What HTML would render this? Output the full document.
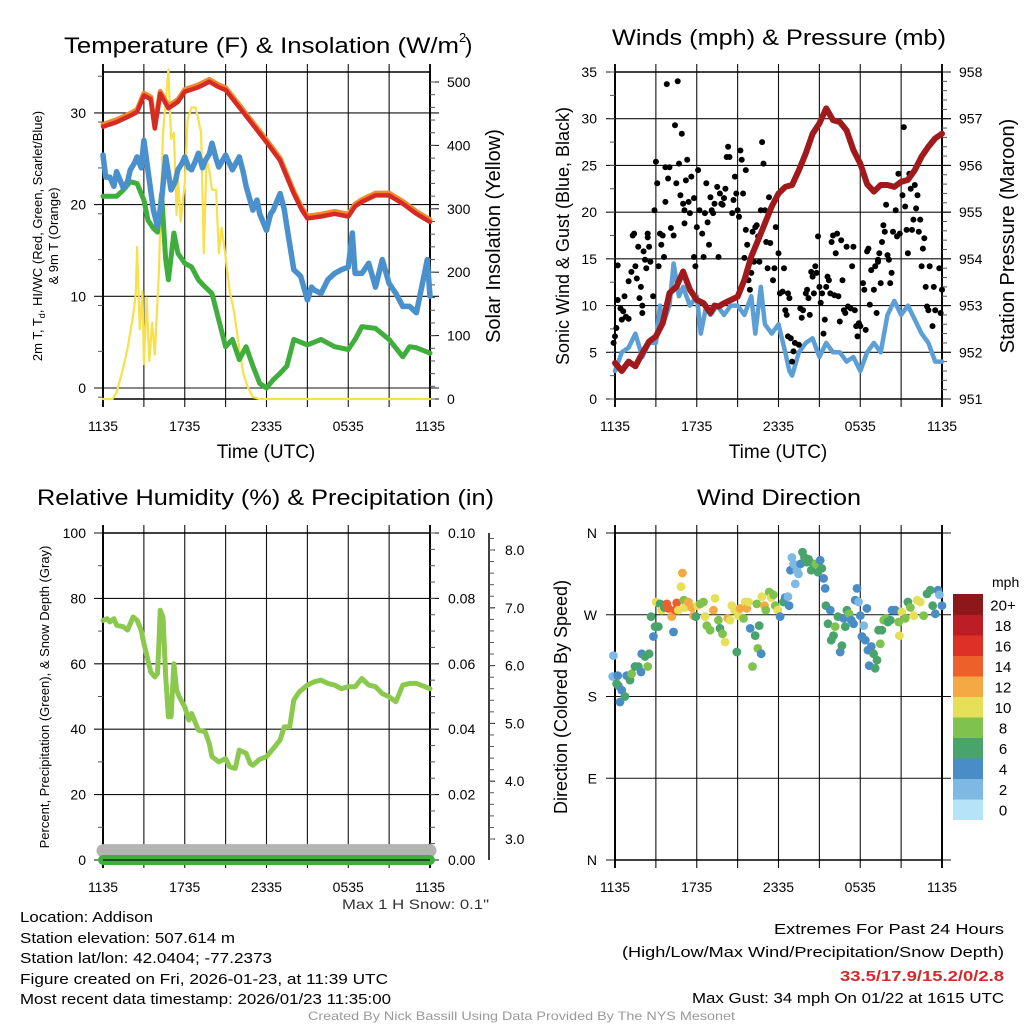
<!DOCTYPE html>
<html><head><meta charset="utf-8"><style>
html,body{margin:0;padding:0;background:#fff;}
svg{display:block;font-family:"Liberation Sans",sans-serif;}
</style></head><body>
<svg id="chart" xmlns="http://www.w3.org/2000/svg" width="1024" height="1024" viewBox="0 0 1024 1024">
<rect width="1024" height="1024" fill="#fff"/>
<g id="g1"></g>
<g id="g2"></g>
<g id="g3"></g>
<g id="g4"></g>
<g id="txt">
<text x="20" y="922" font-size="14.5" textLength="133" lengthAdjust="spacingAndGlyphs">Location: Addison</text>
<text x="20" y="943" font-size="14.5" textLength="215" lengthAdjust="spacingAndGlyphs">Station elevation: 507.614 m</text>
<text x="20" y="963" font-size="14.5" textLength="252" lengthAdjust="spacingAndGlyphs">Station lat/lon: 42.0404; -77.2373</text>
<text x="20" y="984" font-size="14.5" textLength="368" lengthAdjust="spacingAndGlyphs">Figure created on Fri, 2026-01-23, at 11:39 UTC</text>
<text x="20" y="1004" font-size="14.5" textLength="371" lengthAdjust="spacingAndGlyphs">Most recent data timestamp: 2026/01/23 11:35:00</text>
<text x="774" y="934" font-size="14.5" textLength="230" lengthAdjust="spacingAndGlyphs">Extremes For Past 24 Hours</text>
<text x="622" y="957" font-size="14.5" textLength="382" lengthAdjust="spacingAndGlyphs">(High/Low/Max Wind/Precipitation/Snow Depth)</text>
<text x="840" y="981" font-size="15" font-weight="bold" fill="#d42a2a" textLength="164" lengthAdjust="spacingAndGlyphs">33.5/17.9/15.2/0/2.8</text>
<text x="692" y="1003" font-size="14.5" textLength="312" lengthAdjust="spacingAndGlyphs">Max Gust: 34 mph On 01/22 at 1615 UTC</text>
<text x="308" y="1020" font-size="12" fill="#999" textLength="427" lengthAdjust="spacingAndGlyphs">Created By Nick Bassill Using Data Provided By The NYS Mesonet</text>
<text x="342" y="909" font-size="14" fill="#333" textLength="147" lengthAdjust="spacingAndGlyphs">Max 1 H Snow: 0.1"</text>
</g>
</svg>
<script>
// ===== DATA =====
const timeLabels = ["1135","1735","2335","0535","1135"];
const tempH = [0,1,2,2.5,3,3.5,3.8,4.2,4.8,5.5,6,7,7.8,8.5,9,10,11,12,13,13.5,14,14.6,15,16,17,18,18.5,19,20,21,22,23,24];
const tempV = [28.5,29,29.7,30.1,31.9,31.5,28.3,32.1,30.5,31.2,32.3,32.8,33.4,32.8,32.5,30.6,28.7,26.8,24.8,23,21.2,19.4,18.5,18.7,19,18.7,19.8,20.3,21,21,20.1,19,18.1];
const chillH = [0,0.2,0.5,0.8,1,1.3,1.5,1.8,2,2.3,2.5,2.8,3,3.3,3.7,4,4.3,4.6,5,5.3,5.5,5.8,6,6.3,6.5,6.8,7,7.3,7.5,7.8,8,8.3,8.5,9,9.5,10,10.3,10.5,11,11.3,11.5,12,12.3,12.5,13,13.3,13.5,14,14.5,15,15.3,15.5,16,16.5,17,17.5,18,18.3,18.5,19,19.5,20,20.5,21,21.5,22,22.5,23,23.5,23.8,24];
const chillV = [25.4,23,23,22,23.6,22.5,21.8,22.5,23.8,24.5,25.2,24,27,23.7,19.4,17.6,20.5,25.2,21.6,22.5,23.8,24.5,25.2,24,23.8,24.8,25.6,24,24.8,25.5,26.7,25,24.1,25.4,23.8,25.2,23.5,22,19.4,20.5,19,17.2,19,19.4,21.2,19.5,17.6,12.9,12.2,9.6,11,10.7,10.3,11.8,12.5,12.9,13.2,16.9,12.5,12.5,13.6,11,14,11.4,10.3,8.9,8.9,8.2,11.8,14,10];
const dewH = [0,1,1.5,2,2.5,3,3.3,3.7,4,4.3,4.6,4.8,5.2,5.5,6,6.5,7,7.5,8,8.5,9,9.5,10,10.5,11,11.5,12,12.5,13,13.5,14,15,16,17,18,18.5,19,20,21,22,22.5,23,24];
const dewV = [20.9,20.9,21.6,22.5,22.3,20.5,18.3,17.4,17,21.2,14,11.8,16.9,14.7,13.6,13.2,11.8,11,10.3,7.4,4.5,5.3,3.1,4.5,2.4,0.5,0,0.9,1.6,2.4,5.3,4.7,5.3,4.5,4.2,5.3,6.7,6.5,5.3,3.4,4.5,4.4,3.8];
const solH = [0,0.7,1,1.5,1.8,2.2,2.4,2.5,2.7,2.9,3,3.2,3.4,3.6,3.8,4.1,4.4,4.8,5,5.2,5.4,5.5,5.7,6,6.2,6.5,6.8,7,7.2,7.4,7.6,7.8,8,8.3,8.5,8.7,8.9,9.3,9.6,10,10.3,10.6,11,11.5,24];
const solV = [0,0,10,50,80,130,165,240,110,170,55,160,60,120,70,200,420,520,410,420,290,350,280,340,440,460,460,440,420,230,380,360,330,330,230,270,240,170,140,80,40,20,3,0,0];
const windH = [0,0.5,1,1.5,2,2.5,3,3.3,3.5,4,4.3,4.7,5,5.5,6,6.3,6.7,7,7.5,8,8.5,9,9.5,10,10.3,10.7,11,11.5,12,12.5,12.8,13,13.5,14,14.5,15,15.5,16,16.5,17,17.5,18,18.5,19,19.5,20,20.5,21,21.5,22,22.5,23,23.5,24];
const windV = [3,5,5.5,7,4.5,6,6,10,8,10,14.5,11,12,10,11,7,10,9,10,9,10,10,9,11,7,12,8,7,8,5,3,2.5,5,6,6.5,4.5,6,5,5,4,4.5,3,5,6,5,9,10.5,9,10,8.5,7,6,4,4];
const presH = [0,0.5,1,1.5,2,2.5,3,3.5,4,4.5,5,5.5,6,6.5,7,7.3,7.6,8,8.5,9,9.5,10,10.5,11,11.5,12,12.5,13,13.5,14,14.5,15,15.5,16,16.5,17,17.5,18,18.5,19,19.5,20,20.5,21,21.5,22,22.5,23,23.5,24];
const presV = [951.77,951.6,951.8,951.7,951.98,952.23,952.34,952.62,953.27,953.4,953.73,953.34,953.12,953.05,952.84,953.0,952.98,953.05,953.12,953.19,953.55,954.05,954.4,954.76,955.12,955.4,955.54,955.58,955.9,956.26,956.68,956.9,957.22,956.97,956.93,956.75,956.33,956.04,955.6,955.44,955.58,955.58,955.54,955.65,955.69,955.9,956.19,956.4,956.58,956.68];
const gustH = [-0.1,0,0.1,0.2,0.2,0.4,0.6,0.5,0.7,0.8,1.0,1.0,1.2,1.3,1.4,1.5,1.6,1.7,1.8,1.9,2.0,2.0,2.1,2.2,2.3,2.4,2.4,2.5,2.6,2.8,2.9,3.0,3.1,3.2,3.3,3.4,3.5,3.6,3.7,3.7,3.8,3.9,4.0,4.1,4.3,4.4,4.5,4.6,4.7,4.8,4.9,5.0,5.1,5.1,5.2,5.3,5.4,5.5,5.6,5.8,5.8,5.9,6.0,6.1,6.2,6.4,6.5,6.6,6.7,6.8,6.9,7.0,7.1,7.2,7.3,7.5,7.6,7.7,7.8,7.9,8.0,8.1,8.2,8.3,8.4,8.6,8.7,8.8,8.9,9.0,9.1,9.2,9.3,9.4,9.5,9.6,9.6,9.7,9.8,9.9,10.0,10.1,10.2,10.3,10.4,10.5,10.6,10.7,10.8,10.9,11.0,11.1,11.2,11.3,11.4,11.6,11.7,11.8,12.0,12.1,12.3,12.4,12.5,12.6,12.7,12.8,12.7,12.9,13.0,13.1,13.2,13.5,13.6,13.7,13.8,14.0,14.1,14.2,14.3,14.4,14.5,14.6,14.7,14.8,14.9,15.0,15.1,15.2,15.3,15.4,15.5,15.6,15.7,15.8,15.9,16.0,16.1,16.2,16.3,16.4,16.5,16.6,16.7,16.8,16.9,17.0,17.1,17.3,17.4,17.5,17.6,17.7,17.8,17.9,18.0,18.2,18.3,18.4,18.5,18.6,18.7,18.8,19.0,19.1,19.2,19.3,19.3,19.4,19.5,19.6,19.7,19.8,19.9,20.0,20.1,20.2,20.3,20.4,20.6,20.7,20.8,20.9,21.1,21.2,21.3,21.4,21.5,21.6,21.7,21.8,21.9,22.0,22.1,22.2,22.3,22.4,22.5,22.6,22.7,22.8,22.9,23.0,23.1,23.3,23.4,23.5,23.8,23.9,24.0];
const gustV = [6,6.7,7.6,14.3,10.6,9.7,9.4,8.5,11,8.8,8.6,12.6,13.6,17.5,17.7,14.2,12.9,16.3,10.8,12,10,9.2,15.8,14.9,14,17.7,17.3,16.3,14.7,11,20.2,25.4,23.1,14.2,17.7,16.5,17.5,15.2,21.1,24.8,33.7,23.6,24.8,18.3,17.5,29.3,23.1,34,25.2,21.8,28.4,20.9,20.2,18.8,23.4,25.6,21.1,19.9,23.8,21.5,15.2,14.2,18.4,24.5,20.2,17.7,15.2,19.9,23.1,18.9,16.5,21.6,20.2,19.9,20.9,22.7,15.2,22,20.9,20.8,21.5,22.5,25.9,27,25.9,19.9,21.3,23.8,22,20.2,19.5,26.6,25.6,22,15.1,18.1,24.5,16.5,12.7,11.7,13.5,17.9,14.7,18.4,18.6,17.4,14.7,20.2,27.5,25.2,20.2,16.8,14,21.6,16.7,12.7,14,18.4,15.6,11.3,11.5,14,9.5,9,11.3,10.8,6.7,6.5,4,5.1,6,5.8,9.7,8.7,9.5,11.3,11.7,10.8,9,13.6,13.1,11.3,14.2,13.5,17.4,12,10.3,11.3,7,8.5,12,13.1,12.7,11.3,16.8,17.5,11.1,15.6,17.7,11,8.3,17,12.7,9.5,9.2,16.3,9.9,9.7,14.2,16.3,9.5,7.8,6.7,8.1,7.8,12.4,11.7,7.4,15.8,16.1,10.1,13.8,11.7,14.2,9.2,14.7,14.9,15.6,12.4,16.8,18.6,17.9,20.8,15.4,14.9,12.4,13.5,17.9,20.2,17.4,24.1,17.7,21.8,29.1,20.6,18.1,15.6,24.1,22.5,18.1,19.2,22.9,20.4,21.8,17.9,19.2,14.2,16.1,17.2,12,9.9,9.5,14.2,7.8,12,9.5,14,9.2,11.7];
const dirH = [-0.12,-0.17,0.2,0.24,0.12,0.49,0.37,0.73,0.86,1.1,1.22,1.47,1.71,1.91,1.96,2.2,2.4,2.5,2.65,2.82,2.94,3.01,3.18,3.31,3.43,3.62,3.8,3.92,4.16,4.29,4.41,4.53,4.65,4.85,4.95,5.05,5.14,5.39,5.63,5.76,5.93,6.07,6.25,6.49,6.61,6.74,6.98,7.22,7.35,7.59,7.71,7.89,8.08,8.28,8.45,8.57,8.77,8.94,9.06,9.18,9.43,9.55,9.67,9.8,9.92,10.09,10.29,10.41,10.48,10.58,10.73,10.78,10.97,11.07,11.32,11.46,11.63,11.76,11.95,12.12,12.37,12.49,12.69,12.78,12.88,12.98,13.1,13.23,13.35,13.47,13.62,13.76,13.91,14.08,14.21,14.4,14.57,14.74,14.89,15.06,15.18,15.31,15.43,15.48,15.63,15.8,15.87,16.04,16.16,16.36,16.53,16.65,16.78,16.9,17.02,17.19,17.34,17.51,17.63,17.76,17.88,18.0,18.12,18.25,18.37,18.49,18.56,18.66,18.81,18.98,19.1,19.23,19.35,19.47,19.59,19.72,19.89,20.03,20.21,20.33,20.57,20.82,20.87,21.06,21.31,21.5,21.68,21.92,22.17,22.41,22.65,22.9,23.14,23.32,23.51,23.71,23.81,24.0];
const dirV = [225,202,203,192,194,187,174,180,203,198,205,213,213,207,227,224,213,227,268,246,257,284,257,282,275,278,282,277,268,251,275,283,275,301,316,286,278,284,278,269,268,280,282,284,268,258,253,275,288,264,255,249,240,266,264,280,275,229,269,277,266,284,277,284,255,213,247,282,233,258,227,290,280,275,295,289,292,280,275,268,284,289,290,280,319,333,326,304,319,315,326,339,333,328,331,319,326,326,317,330,321,310,299,280,260,275,242,247,257,268,229,236,266,257,275,271,264,260,286,299,284,269,246,258,242,277,231,214,235,227,211,220,253,238,253,264,266,262,264,275,275,262,247,273,266,284,278,269,286,284,269,293,297,280,271,297,292,280];
const dirS = [3,3,5,4,6,4,5,7,5,7,9,7,7,5,5,7,8,7,7,5,7,10,7,6,10,7,15,15,12,5,14,15,10,10,12,8,10,12,12,12,7,10,8,8,10,8,8,12,10,8,7,8,10,13,10,10,10,7,10,13,8,10,12,10,5,8,6,8,8,6,5,10,12,8,8,10,8,8,10,4,6,4,3,4,4,3,3,2,3,3,4,6,6,6,6,6,6,8,6,4,6,4,4,6,6,4,6,6,8,6,4,6,4,6,6,8,5,4,4,4,3,4,4,2,4,4,4,4,4,6,6,6,6,8,6,8,8,6,6,4,4,8,10,10,8,6,8,10,10,10,8,6,6,6,4,4,3,4];
const rhH = [0,0.3,0.5,0.8,1,1.5,1.8,2,2.2,2.5,2.8,3,3.3,3.5,3.8,4,4.1,4.2,4.4,4.6,4.8,5,5.1,5.2,5.4,5.6,6,6.3,6.5,6.8,7,7.5,7.8,8,8.5,9,9.3,9.7,10,10.5,10.8,11,11.5,12,12.5,13,13.3,13.7,14,14.4,15,15.5,16,16.5,17,17.5,18,18.5,19,19.5,20,20.5,21,21.5,22,22.5,23,24];
const rhV = [73.3,73.8,72.8,73.8,71.8,71.3,70.3,72.3,74.3,73.3,70.3,66.2,61,57.5,56,57,66.2,76.4,74.3,56,43.8,43.8,52,60,52,49.9,46.8,42.8,44.8,41.8,39.7,39.2,35.6,31.6,30,31,28.5,28,33.6,32.6,29.5,29,30.8,31.6,34.1,36.7,40.7,40.7,48.9,51.4,53.5,54.5,55,54,53.5,52.4,53,53,55.5,53.5,53,50.9,49.9,48.4,53.5,54,54,52.4];
const precipH = [0,24];
const precipV = [0,0];
const snowH = [0,24];
const snowV = [2.8,2.8];
const speedBins = ["0","2","4","6","8","10","12","14","16","18","20+"];
const binColors = ["#b5e3f7","#7db9e3","#4a8dc6","#49a46c","#7fc24d","#e6df58","#f5a944","#ee5f2b","#dd3128","#bd1d25","#8e171a"];

// ===== HELPERS =====
const NS = "http://www.w3.org/2000/svg";
function mk(tag, attrs, parent){ const e=document.createElementNS(NS,tag); for(const k in attrs) e.setAttribute(k,attrs[k]); parent.appendChild(e); return e; }
function txt(parent, s, x, y, size, anchor, extra){ const e=mk("text",Object.assign({x:x,y:y,"font-size":size,"text-anchor":anchor||"start"},extra||{}),parent); e.textContent=s; return e; }
function pathD(xs, ys, fx, fy){ return xs.map((h,i)=>(i?"L":"M")+fx(h).toFixed(1)+","+fy(ys[i]).toFixed(1)).join(""); }

function frame(g, X0, X1, yT, yB, hLines){
  for(let k=0;k<=8;k++){
    const x = X0 + k*(X1-X0)/8;
    const l = mk("line",{x1:x,x2:x,y1:yT-8,y2:yB+8,stroke:"#111","stroke-width":(k==0||k==8)?2:1.1},g);
    
    
  }
  hLines.forEach(y=>{
    const l = mk("line",{x1:X0-9,x2:X1+9,y1:y,y2:y,stroke:"#111","stroke-width":1.1},g);
    
    
  });
  const r = mk("rect",{x:X0,y:yT,width:X1-X0,height:yB-yT,fill:"none",stroke:"#000","stroke-width":1.5},g);
  
  
  timeLabels.forEach((s,i)=>{
    const t = txt(g,s,X0+i*(X1-X0)/4,yB+32,14,"middle");
    
    
  });
}
function minorTicks(g, x, y0, y1, step, dir){
  for(let y=y0; y>=y1-0.1; y-=step){
    const l = mk("line",{x1:x,x2:x+dir*5,y1:y,y2:y,stroke:"#555","stroke-width":1},g);
    
    
  }
}
function series(g, name, d, color, w){
  const p = mk("path",{d:d,fill:"none",stroke:color,"stroke-width":w,"stroke-linejoin":"round","stroke-linecap":"round"},g);
  
  
  return p;
}

// ===== PANEL 1 =====
(function(){
  const g=document.getElementById("g1");
  const X0=103,X1=430,yT=72,yB=399;
  const xS=h=>X0+h*(X1-X0)/24;
  const yS=v=>388-v*9.17;
  const yI=v=>399-v*0.634;
  frame(g,X0,X1,yT,yB,[0,10,20,30].map(yS));
  minorTicks(g,X0,yS(-1),yT,yS(0)-yS(5),-1);
  [0,100,200,300,400,500].forEach(v=>{
    const l=mk("line",{x1:X1,x2:X1+9,y1:yI(v),y2:yI(v),stroke:"#111"},g);
    
    
    const t=txt(g,String(v),X1+17,yI(v)+5,14,"start");
    
    
  });
  minorTicks(g,X1,yI(0),yT,yI(0)-yI(20),1);
  [0,10,20,30].forEach(v=>{
    const t=txt(g,String(v),86,yS(v)+5,14,"end");
    
    
  });
  series(g,"insolation-line",pathD(solH,solV,xS,yI),"#f7e04a",2.2);
  series(g,"dewpoint-line",pathD(dewH,dewV,xS,yS),"#3fae3c",5);
  series(g,"windchill-line",pathD(chillH,chillV,xS,yS),"#4a90cc",5.5);
  series(g,"temp-9m-line",pathD(tempH,tempV.map(v=>v+0.25),xS,yS),"#f08a2c",5);
  series(g,"temp-2m-line",pathD(tempH,tempV,xS,yS),"#d62a25",4.5);
  const t1=txt(g,"Temperature (F) & Insolation (W/m",64,53,22,"start",{textLength:"395",lengthAdjust:"spacingAndGlyphs"});
  
  
  const t1b=txt(g,"2",459,42,13);  
  const t1c=txt(g,")",465,53,22);  
  const xt=txt(g,"Time (UTC)",266,458,19,"middle");
  
  
  const ya=mk("text",{transform:"translate(42,236) rotate(-90)","font-size":13,"text-anchor":"middle"},g);
  ya.innerHTML='2m T, T<tspan font-size="9" dy="3">d</tspan><tspan dy="-3">, HI/WC (Red, Green, Scarlet/Blue)</tspan>';
  
  
  const yb=txt(g,"& 9m T (Orange)",0,0,13,"middle",{transform:"translate(58,236) rotate(-90)"});
  
  
  const yr=txt(g,"Solar Insolation (Yellow)",0,0,20,"middle",{transform:"translate(500,236) rotate(-90)"});
  
  
})();

// ===== PANEL 2 =====
(function(){
  const g=document.getElementById("g2");
  const X0=615,X1=942,yT=72,yB=399;
  const xS=h=>X0+h*(X1-X0)/24;
  const yW=v=>399-v*327/35;
  const yP=p=>399-(p-951)*327/7;
  frame(g,X0,X1,yT,yB,[0,5,10,15,20,25,30,35].map(yW));
  minorTicks(g,X0,yW(0),yT,yW(0)-yW(2.5),-1);
  minorTicks(g,X1,yP(951),yT,yP(951)-yP(951.2),1);
  [0,5,10,15,20,25,30,35].forEach(v=>{
    const t=txt(g,String(v),597,yW(v)+5,14,"end");
    
    
  });
  [951,952,953,954,955,956,957,958].forEach(v=>{
    const l=mk("line",{x1:X1,x2:X1+9,y1:yP(v),y2:yP(v),stroke:"#111"},g);
    
    
    const t=txt(g,String(v),X1+17,yP(v)+5,14,"start");
    
    
  });
  series(g,"sonic-wind-line",pathD(windH,windV,xS,yW),"#5b9fd6",4.5);
  gustH.forEach((h,i)=>{
    const c=mk("circle",{cx:xS(h).toFixed(1),cy:yW(gustV[i]).toFixed(1),r:3,fill:"#000"},g);
    
    
  });
  series(g,"pressure-line",pathD(presH,presV,xS,yP),"#a01a1c",6);
  const t=txt(g,"Winds (mph) & Pressure (mb)",612,45,22,"start",{textLength:"334",lengthAdjust:"spacingAndGlyphs"});
  
  
  const xt=txt(g,"Time (UTC)",778,458,19,"middle");
  
  
  const ya=txt(g,"Sonic Wind & Gust (Blue, Black)",0,0,18,"middle",{transform:"translate(569,236) rotate(-90)"});
  
  
  const yr=txt(g,"Station Pressure (Maroon)",0,0,20,"middle",{transform:"translate(1014,236) rotate(-90)"});
  
  
})();

// ===== PANEL 3 =====
(function(){
  const g=document.getElementById("g3");
  const X0=103,X1=430,yT=533,yB=860;
  const xS=h=>X0+h*(X1-X0)/24;
  const yR=v=>860-v*3.27;
  const yPr=v=>860-v*3270;
  const ySn=s=>839-(s-3)*57.8;
  frame(g,X0,X1,yT,yB,[0,20,40,60,80,100].map(yR));
  minorTicks(g,X0,yR(10),yT,yR(0)-yR(20),-1);
  minorTicks(g,X1,yR(0),yT,yR(0)-yR(5),1);
  [0,20,40,60,80,100].forEach(v=>{
    const t=txt(g,String(v),86,yR(v)+5,14,"end");
    
    
  });
  ["0.00","0.02","0.04","0.06","0.08","0.10"].forEach((s,i)=>{
    const t=txt(g,s,448,yPr(i*0.02)+5,14,"start");
    
    
  });
  const sa=mk("line",{x1:489,x2:489,y1:533,y2:860,stroke:"#000","stroke-width":1.5},g);
  
  
  [3,4,5,6,7,8].forEach(v=>{
    const l=mk("line",{x1:489,x2:495,y1:ySn(v),y2:ySn(v),stroke:"#000"},g);
    
    
    const t=txt(g,v.toFixed(1),505,ySn(v)+5,14,"start");
    
    
  });
  minorTicks(g,489,ySn(3),533,ySn(3)-ySn(3.2),1);
  series(g,"rh-line",pathD(rhH,rhV,xS,yR),"#8bc94e",5);
  series(g,"snow-depth-line",pathD(snowH,snowV,xS,ySn),"#b3b3b3",13);
  series(g,"precip-line",pathD(precipH,precipV,xS,yPr),"#3fae3c",10);
  const fr=mk("line",{x1:X0,x2:X1,y1:yB,y2:yB,stroke:"#111","stroke-width":1.2},g);
  
  
  const t=txt(g,"Relative Humidity (%) & Precipitation (in)",37,505,22,"start",{textLength:"457",lengthAdjust:"spacingAndGlyphs"});
  
  
  const ya=txt(g,"Percent, Precipitation (Green), & Snow Depth (Gray)",0,0,13,"middle",{transform:"translate(49,697) rotate(-90)"});
  
  
})();

// ===== PANEL 4 =====
(function(){
  const g=document.getElementById("g4");
  const X0=615,X1=942,yT=533,yB=860;
  const xS=h=>X0+h*(X1-X0)/24;
  const yD=d=>860-d*327/360;
  frame(g,X0,X1,yT,yB,[0,90,180,270,360].map(yD));
  ["N","E","S","W","N"].forEach((s,i)=>{
    const t=txt(g,s,597,yD(i*90)+5,14,"end");
    
    
  });
  dirH.forEach((h,i)=>{
    const b=Math.min(10,Math.floor((dirS[i]||0)/2));
    const c=mk("circle",{cx:xS(h).toFixed(1),cy:yD(dirV[i]).toFixed(1),r:4.4,fill:binColors[b]},g);
    
    
  });
  const top=594, bh=20.5;
  speedBins.forEach((s,i)=>{
    const k=10-i;
    const r=mk("rect",{x:953,y:top+k*bh,width:30,height:bh+0.5,fill:binColors[i]},g);
    
    
    const t=txt(g,s,1003,top+k*bh+bh/2+6,15,"middle");
    
    
  });
  const u=txt(g,"mph",992,587,14,"start");
  
  
  const t=txt(g,"Wind Direction",697,505,22,"start",{textLength:"164",lengthAdjust:"spacingAndGlyphs"});
  
  
  const ya=txt(g,"Direction (Colored By Speed)",0,0,18,"middle",{transform:"translate(567,697) rotate(-90)"});
  
  
})();
</script>
</body></html>
